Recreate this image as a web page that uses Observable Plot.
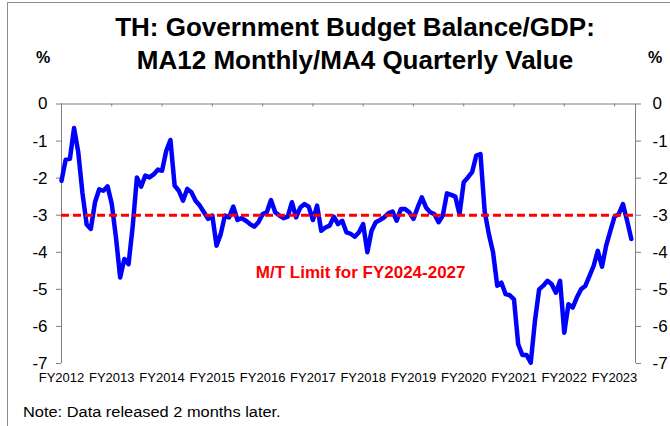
<!DOCTYPE html>
<html>
<head>
<meta charset="utf-8">
<script src="https://cdn.jsdelivr.net/npm/d3@7"></script>
<script src="https://cdn.jsdelivr.net/npm/@observablehq/plot@0.6"></script>
<style>
  html, body { margin: 0; padding: 0; background: #fff; }
  body { font-family: "Liberation Sans", Arial, sans-serif; color: #000; }
  #wrap { position: relative; width: 670px; height: 426px; overflow: hidden; background: #fff; }
  #frame { position: absolute; left: 7px; top: 2px; width: 800px; height: 600px;
           border-left: 1px solid #8c8c8c; border-top: 1px solid #8c8c8c; }
  .title { position: absolute; left: 0; width: 710px; text-align: center; font-weight: bold;
           font-size: 26px; line-height: 26px; white-space: nowrap; }
  .pct { position: absolute; font-weight: bold; font-size: 16px; line-height: 16px; }
  .note { position: absolute; left: 23px; top: 405px; font-size: 14px; line-height: 14px;
          white-space: nowrap; transform: scaleX(1.17); transform-origin: left center; }
  #chart { position: absolute; left: 0; top: 90px; }
</style>
</head>
<body>
<div id="wrap">
  <div id="frame"></div>
  <div class="title" style="top:14px">TH: Government Budget Balance/GDP:</div>
  <div class="title" style="top:47px">MA12 Monthly/MA4 Quarterly Value</div>
  <div class="pct" style="left:36px; top:50px">%</div>
  <div class="pct" style="left:648px; top:50px">%</div>
  <div id="chart"></div>
  <div class="note">Note: Data released 2 months later.</div>
</div>
<script>
// Monthly series, Oct 2011 (start of FY2012) onward, % of GDP
const balance = [
  -2.07, -1.5, -1.48, -0.65, -1.3, -2.4, -3.25, -3.37, -2.65, -2.3,
  -2.34, -2.22, -2.7, -3.6, -4.68, -4.18, -4.32, -3.3, -1.98, -2.23,
  -1.93, -1.98, -1.9, -1.77, -1.8, -1.26, -0.97, -2.2, -2.34, -2.61,
  -2.29, -2.38, -2.61, -2.74, -2.92, -3.1, -3.01, -3.82, -3.51, -3.01,
  -3.06, -2.77, -3.13, -3.08, -3.15, -3.24, -3.31, -3.19, -2.97, -2.92,
  -2.59, -2.92, -3.01, -3.08, -3.04, -2.65, -3.06, -2.79, -2.7, -2.77,
  -3.13, -2.74, -3.42, -3.33, -3.28, -3.04, -3.24, -3.15, -3.46, -3.5,
  -3.58, -3.46, -3.24, -4.0, -3.42, -3.19, -3.13, -3.06, -2.95, -2.9,
  -3.15, -2.83, -2.83, -2.92, -3.1, -2.79, -2.52, -2.79, -2.92, -2.97,
  -3.19, -3.01, -2.41, -2.45, -2.5, -2.97, -2.11, -1.98, -1.84, -1.39,
  -1.35, -2.9, -3.51, -4.0, -4.9, -4.82, -5.13, -5.16, -5.27, -6.48,
  -6.77, -6.77, -6.98, -5.85, -5.0, -4.9, -4.77, -4.86, -5.09, -4.77,
  -6.17, -5.4, -5.49, -5.22, -5.0, -4.91, -4.64, -4.37, -3.96, -4.39,
  -3.82, -3.42, -3.04, -2.97, -2.7, -3.15, -3.64
];
const fyLabels = ["FY2012","FY2013","FY2014","FY2015","FY2016","FY2017",
                  "FY2018","FY2019","FY2020","FY2021","FY2022","FY2023"];
const fyStartMonth = [0, 12, 24, 36, 48, 60, 72, 84, 96, 108, 120, 132];
const yTicks = [0, -1, -2, -3, -4, -5, -6, -7];
const xEnd = 137;
const limitValue = -3;
const limitLabel = "M/T Limit for FY2024-2027";
const limitLabelX = 71.4;
const limitLabelY = -4.55;

const data = balance.map((v, i) => ({month: i, value: v}));
const axisGray = "#7f7f7f";

const chart = Plot.plot({
  width: 670,
  height: 300,
  marginLeft: 61,
  marginRight: 35,
  marginTop: 13.5,
  marginBottom: 27,
  style: {fontFamily: "'Liberation Sans', Arial, sans-serif", color: "#000", background: "transparent", overflow: "visible"},
  x: {domain: [0, xEnd], axis: null},
  y: {domain: [-7, 0], axis: null},
  marks: [
    Plot.ruleY([0], {stroke: axisGray, strokeWidth: 1}),
    Plot.ruleX([0, xEnd], {stroke: axisGray, strokeWidth: 1}),
    Plot.ruleX(fyStartMonth, {x: d => d, y1: 0, y2: -0.08, stroke: axisGray}),
    Plot.axisY(yTicks, {anchor: "left", label: null, tickSize: 5, tickPadding: 9, fontSize: 17, stroke: axisGray, tickFormat: d => String(d)}),
    Plot.axisY(yTicks, {anchor: "right", label: null, tickSize: 5, tickPadding: 12, fontSize: 17, stroke: axisGray, tickFormat: d => String(d)}),
    Plot.axisX(fyStartMonth, {anchor: "bottom", label: null, tickSize: 0, tickPadding: 9, fontSize: 13,
      tickFormat: d => fyLabels[fyStartMonth.indexOf(d)]}),
    Plot.line(data, {x: "month", y: "value", stroke: "#0000ff", strokeWidth: 4.5, strokeLinejoin: "round", strokeLinecap: "round"}),
    Plot.ruleY([limitValue], {stroke: "#ff0000", strokeWidth: 3, strokeDasharray: "8,4"}),
    Plot.text([limitLabel], {x: () => limitLabelX, y: () => limitLabelY, text: d => d, fill: "#ff0000",
      fontWeight: "bold", fontSize: 17})
  ]
});
document.getElementById("chart").appendChild(chart);
</script>
</body>
</html>
